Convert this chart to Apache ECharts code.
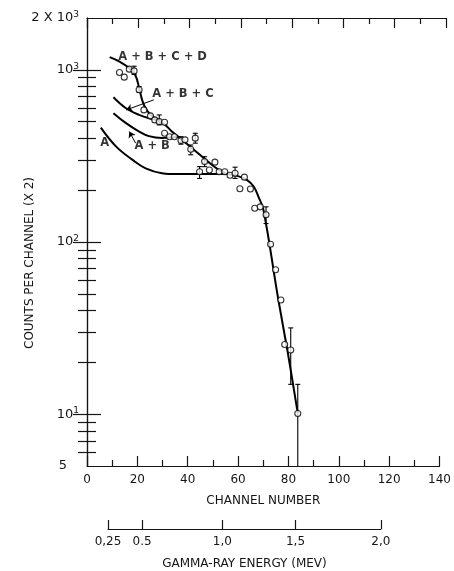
<!DOCTYPE html>
<html>
<head>
<meta charset="utf-8">
<script src="https://cdn.jsdelivr.net/npm/echarts@6/dist/echarts.min.js"></script>
<style>
  html, body { margin: 0; padding: 0; background: #fff; }
  #chart { width: 454px; height: 571px; }
</style>
</head>
<body>
<div id="chart"></div>
<script>
// ---- measured spectrum: channel number and counts per channel (x2) ----
const pointChannel = [12.9, 14.8, 16.8, 18.7, 20.7, 22.6, 25.2, 26.9, 28.7, 30.8,
                      30.8, 32.8, 34.7, 37.3, 38.9, 41.2, 43.0, 46.7, 48.6, 50.8,
                      44.7, 52.5, 54.7, 56.8, 58.8, 62.5, 60.7, 64.9, 66.6, 68.8,
                      71.1, 72.9, 74.9, 77.0, 78.5, 80.9, 83.7];
const pointCounts  = [964, 907, 1009, 986, 766, 585, 540, 512, 500, 496,
                      428, 409, 409, 388, 392, 346, 401, 293, 262, 291,
                      256, 256, 256, 244, 251, 238, 204, 203, 157, 160,
                      144, 97, 69, 46, 25.4, 23.6, 10.1];

// ---- statistical error bars: channel, lower and upper count ----
const errChannel = [18.7, 20.7, 28.7, 37.3, 41.2, 43.0, 46.7, 44.7, 58.8, 71.1, 80.9, 83.7];
const errLow     = [940, 740, 479, 370, 321, 375, 274, 234, 234, 128, 14.9, 0];
const errHigh    = [1050, 800, 547, 409, 366, 428, 313, 274, 272, 160, 31.7, 14.9];

// ---- calculated spectra, [channel, counts] ----
const curveA = [[5.5, 462], [11.6, 358], [18.1, 300], [23.3, 268], [29.8, 251],
                [36, 248], [46, 248], [56, 248]];
const curveAB = [[10.5, 560], [15.5, 490], [20.7, 438], [24.6, 412], [29.8, 402],
                 [33.5, 404], [36.3, 409]];
const curveABC = [[10.5, 693], [15.5, 598], [20.7, 547], [25.9, 517], [28.5, 507]];
const curveABCD = [[9.0, 1185], [12.9, 1117], [16.8, 1023], [19.2, 930], [20.7, 786],
                   [22.0, 660], [23.5, 590], [25.5, 545], [28.5, 507],
                   [31.1, 478], [33.7, 438], [36.3, 409], [40.2, 366], [44.1, 328],
                   [48.0, 293], [51.9, 265], [55.8, 248], [59.7, 242], [63.6, 229],
                   [66.2, 210], [68.1, 183], [70.1, 153], [75.9, 47], [79.8, 22.5],
                   [83.7, 10.1]];

// ---- curve captions and their leader arrows ----
const captionText = ['A + B + C + D', 'A + B + C', 'A + B', 'A'];
const captionAt   = [[30.0, 1190], [38.1, 722], [25.9, 361], [7.0, 375]];
const leaderLines = [[[26.5, 669], [15.6, 585]], [[19.3, 375], [16.8, 438]]];

// ---- axes ----
const channelMin = 0, channelMax = 140, channelStep = 20;
const countMin = 5, countMax = 2000;
const countLabels = [5, 10, 100, 1000, 2000];
const countMajorTicks = [10, 100, 1000];
const countMinorTicks = [6, 7, 8, 9, 20, 30, 40, 50, 60, 70, 80, 90,
                         200, 300, 400, 500, 600, 700, 800, 900];
const energyLabels  = ['0,25', '0.5', '1,0', '1,5', '2,0'];
const energyChannel = [8.2, 21.5, 52.8, 81.3, 114.6];

const FONT = 'DejaVu Sans';
const INK = '#151515';
const plot = { left: 87, top: 18, width: 359, height: 448 };
const pxPerChannel = plot.width / (channelMax - channelMin);

const chart = echarts.init(document.getElementById('chart'), null, { renderer: 'canvas' });

const near = (a, b) => Math.abs(a - b) < 1e-6 * Math.max(1, Math.abs(b));

function countLabel(v) {
  if (near(v, 2000)) return '2 X 10{s|3}';
  if (near(v, 5)) return '{p|5}';
  return '10{s|' + Math.round(Math.log10(v)) + '}';
}

const tickLine = { lineStyle: { color: INK, width: 1.2 } };
const axisLine = { show: true, lineStyle: { color: INK, width: 1.2 } };

function channelAxis(gridIndex, position, withLabels) {
  return {
    type: 'value', gridIndex, position,
    min: channelMin, max: channelMax, interval: channelStep,
    axisLine,
    axisTick: Object.assign({ show: true, inside: true, length: 10 }, tickLine),
    minorTick: Object.assign({ show: true, splitNumber: 2, length: 6 }, tickLine),
    splitLine: { show: false },
    axisLabel: withLabels
      ? { show: true, margin: 8, fontFamily: FONT, fontSize: 12, color: INK }
      : { show: false },
    name: withLabels ? 'CHANNEL NUMBER' : '',
    nameLocation: 'middle', nameGap: 29,
    nameTextStyle: { fontFamily: FONT, fontSize: 12, color: INK }
  };
}

function countAxis(gridIndex, position, ticks, len, withLine, withLabels) {
  return {
    type: 'log', logBase: 10, gridIndex, position,
    min: countMin, max: countMax,
    axisLine: withLine ? axisLine : { show: false },
    axisTick: Object.assign({ show: true, inside: true, length: len, customValues: ticks }, tickLine),
    splitLine: { show: false },
    axisLabel: withLabels ? {
      show: true, margin: 8, customValues: countLabels,
      fontFamily: FONT, fontSize: 13, color: INK,
      formatter: countLabel,
      rich: {
        s: { fontFamily: FONT, fontSize: 9, color: INK, padding: [0, 0, 7, 0] },
        p: { fontFamily: FONT, fontSize: 13, color: INK, padding: [0, 12, 0, 0] }
      }
    } : { show: false }
  };
}

const hiddenX = gi => ({ type: 'value', gridIndex: gi, min: channelMin, max: channelMax, show: false });

const option = {
  backgroundColor: '#fff',
  animation: false,
  grid: [
    Object.assign({}, plot),
    Object.assign({}, plot),
    Object.assign({}, plot),
    Object.assign({}, plot),
    {
      left: plot.left + energyChannel[0] * pxPerChannel,
      width: (energyChannel[energyChannel.length - 1] - energyChannel[0]) * pxPerChannel,
      top: 520, height: 10
    }
  ],
  xAxis: [
    channelAxis(0, 'bottom', true),
    channelAxis(1, 'top', false),
    hiddenX(2),
    hiddenX(3),
    {
      type: 'value', gridIndex: 4, position: 'bottom',
      min: energyChannel[0], max: energyChannel[energyChannel.length - 1],
      axisLine,
      axisTick: Object.assign({ show: true, inside: true, length: 9, customValues: energyChannel }, tickLine),
      splitLine: { show: false },
      axisLabel: {
        show: true, margin: 7, customValues: energyChannel,
        fontFamily: FONT, fontSize: 12, color: INK,
        formatter: v => {
          const i = energyChannel.findIndex(c => near(c, v));
          return i >= 0 ? energyLabels[i] : '';
        }
      },
      name: 'GAMMA-RAY ENERGY (MEV)', nameLocation: 'middle', nameGap: 29,
      nameTextStyle: { fontFamily: FONT, fontSize: 12, color: INK }
    }
  ],
  yAxis: [
    countAxis(0, 'left', countMajorTicks, 14, true, true),
    countAxis(1, 'right', countMajorTicks, 14, true, false),
    countAxis(2, 'left', countMinorTicks, 9, false, false),
    countAxis(3, 'right', countMinorTicks, 9, false, false),
    { type: 'value', gridIndex: 4, show: false }
  ],
  graphic: [{
    type: 'text', x: 30, y: 263, rotation: Math.PI / 2,
    style: {
      text: 'COUNTS PER CHANNEL (X 2)', align: 'center', verticalAlign: 'middle',
      font: '12px "' + FONT + '"', fill: INK
    }
  }],
  series: [
    ...[curveA, curveAB, curveABC, curveABCD].map(d => ({
      type: 'line', xAxisIndex: 0, yAxisIndex: 0, data: d,
      symbol: 'none', smooth: 0.4,
      lineStyle: { color: '#000', width: 2 }, z: 2
    })),
    {
      // error bars with end caps; a lower bound of 0 runs to the axis
      type: 'custom', xAxisIndex: 0, yAxisIndex: 0, z: 3,
      data: errChannel.map((c, i) => [c, errLow[i], errHigh[i]]),
      renderItem(params, api) {
        const x = api.value(0), lo = api.value(1), hi = api.value(2);
        const cs = params.coordSys;
        const top = api.coord([x, hi]);
        const bottom = lo >= countMin ? api.coord([x, lo]) : [top[0], cs.y + cs.height];
        const w = 2.5;
        const style = { stroke: '#000', lineWidth: 1.1 };
        const kids = [
          { type: 'line', shape: { x1: top[0], y1: top[1], x2: bottom[0], y2: bottom[1] }, style },
          { type: 'line', shape: { x1: top[0] - w, y1: top[1], x2: top[0] + w, y2: top[1] }, style }
        ];
        if (lo >= countMin) {
          kids.push({ type: 'line', shape: { x1: bottom[0] - w, y1: bottom[1], x2: bottom[0] + w, y2: bottom[1] }, style });
        }
        return { type: 'group', children: kids };
      }
    },
    {
      type: 'scatter', xAxisIndex: 0, yAxisIndex: 0, z: 4,
      data: pointChannel.map((c, i) => [c, pointCounts[i]]),
      symbol: 'circle', symbolSize: 6,
      itemStyle: { color: '#fff', borderColor: '#000', borderWidth: 1.1 }
    },
    {
      type: 'lines', coordinateSystem: 'cartesian2d', xAxisIndex: 0, yAxisIndex: 0, z: 3,
      symbol: ['none', 'arrow'], symbolSize: 6,
      lineStyle: { color: '#000', width: 1, opacity: 1 },
      data: leaderLines.map(c => ({ coords: c }))
    },
    {
      type: 'scatter', xAxisIndex: 0, yAxisIndex: 0, z: 5,
      symbolSize: 0, silent: true,
      data: captionText.map((t, i) => ({ name: t, value: captionAt[i] })),
      label: {
        show: true, position: 'inside', formatter: '{b}',
        fontFamily: FONT, fontSize: 11.5, color: '#000', fontWeight: 'bold'
      }
    }
  ]
};

chart.setOption(option);
</script>
</body>
</html>
